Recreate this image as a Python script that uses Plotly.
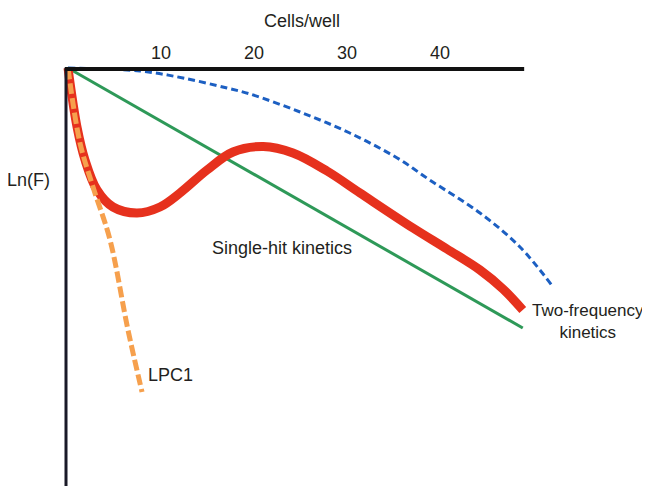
import plotly.graph_objects as go

# Data (x = cells/well, y = Ln(F), arbitrary units)
single_hit_x = [0, 48.9]
single_hit_y = [0, -26.0]

blue_x = [0, 7.74, 12.37, 17.1, 19.57, 24.95, 30.3, 35.4, 38.9, 44.3, 48.6, 52.0]
blue_y = [0, -0.3, -1.0, -2.0, -2.6, -4.4, -6.5, -9.0, -11.2, -14.5, -17.9, -21.7]

two_freq_x = [0, 0.97, 1.83, 3.12, 4.84, 7.42, 9.89, 12.04, 14.95, 17.74, 21.0,
              24.19, 27.85, 31.4, 37.1, 40.75, 44.3, 46.77, 48.9]
two_freq_y = [0, -5.9, -9.2, -12.2, -13.9, -14.5, -13.9, -12.5, -10.2, -8.4, -7.85,
              -8.5, -10.3, -12.5, -16.0, -18.1, -20.2, -22.1, -24.2]

lpc1_x = [0, 1.29, 2.69, 4.52, 6.45, 7.96]
lpc1_y = [0, -7.5, -11.9, -17.2, -26.2, -32.4]

tick_vals = [10, 20, 30, 40]
tick_text = ["10", "20", "30", "40"]

FONT = "Liberation Sans, Arial, sans-serif"
TXT = "#231f20"
FS = 18

fig = go.Figure()
fig.add_trace(go.Scatter(x=blue_x, y=blue_y, mode="lines", line_shape="spline",
                         line=dict(color="#1c5fc2", width=3, dash="7px,4px")))
fig.add_trace(go.Scatter(x=single_hit_x, y=single_hit_y, mode="lines",
                         line=dict(color="#2e9958", width=3)))
fig.add_trace(go.Scatter(x=two_freq_x, y=two_freq_y, mode="lines", line_shape="spline",
                         line=dict(color="#e6311d", width=9)))
fig.add_trace(go.Scatter(x=lpc1_x, y=lpc1_y, mode="lines", line_shape="spline",
                         line=dict(color="#f6a04d", width=5, dash="11px,4px")))

# axis lines
fig.add_shape(type="line", x0=-0.215, x1=-0.215, y0=0, y1=-42.6, xref="x", yref="y",
              line=dict(color="#1a1a28", width=3))
fig.add_shape(type="line", x0=-0.35, x1=49.05, y0=-0.1, y1=-0.1, xref="x", yref="y",
              line=dict(color="#111111", width=4))

PLOT_H = 434
fig.add_annotation(x=25.2, y=1 + 39 / PLOT_H, xref="x", yref="paper", text="Cells/well",
                   showarrow=False, yanchor="middle", xanchor="center",
                   font=dict(family=FONT, size=FS, color=TXT))
fig.add_annotation(x=-4.2, y=-11.2, text="Ln(F)", showarrow=False,
                   font=dict(family=FONT, size=FS, color=TXT))
fig.add_annotation(x=23.0, y=-18.0, text="Single-hit kinetics", showarrow=False,
                   font=dict(family=FONT, size=FS, color=TXT))
fig.add_annotation(x=55.9, y=-25.3, text="Two-frequency<br>kinetics", showarrow=False,
                   align="center", font=dict(family=FONT, size=17, color=TXT))
fig.add_annotation(x=8.4, y=-30.7, text="LPC1", showarrow=False, xanchor="left",
                   font=dict(family=FONT, size=FS, color=TXT))

fig.update_layout(
    width=650, height=486,
    margin=dict(l=0, r=0, t=52, b=0),
    paper_bgcolor="white", plot_bgcolor="white",
    showlegend=False,
    xaxis=dict(range=[-60 / 9.3, 590 / 9.3], side="top", tickvals=tick_vals,
               ticktext=tick_text, ticks="", ticklabelstandoff=-4,
               showgrid=False, zeroline=False,
               showline=False, tickfont=dict(family=FONT, size=FS, color=TXT)),
    yaxis=dict(range=[-42.6, 0.8], showticklabels=False, ticks="", showgrid=False,
               zeroline=False, showline=False),
)

fig.write_html("out.html")
